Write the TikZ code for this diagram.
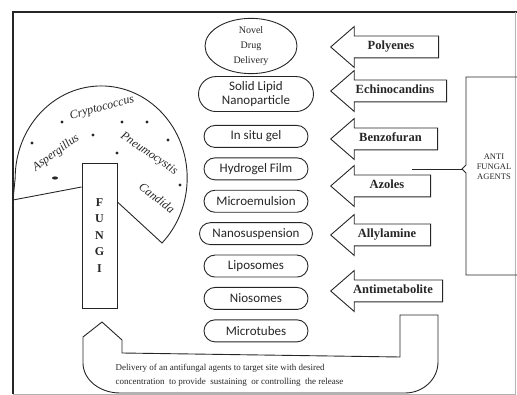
\documentclass[tikz,border=0pt]{standalone}
\usepackage{fontspec}
\setmainfont{Liberation Serif}
\newfontfamily\pillfont{Carlito}
\definecolor{fgInk}{HTML}{262626}
\usetikzlibrary{arrows.meta, positioning, shapes.geometric, shapes.misc, shapes.arrows}

\begin{document}
\begin{tikzpicture}[x=1pt, y=-1pt,
  node distance=9.5pt,
  every node/.style={align=center, text=fgInk},
  line/.style={draw=fgInk, line width=0.9pt},
  pill/.style={rounded rectangle, line, fill=white, inner sep=1pt,
               minimum width=106pt, minimum height=22pt,
               font=\pillfont\fontsize{13}{14}\selectfont},
  agent/.style={single arrow, shape border rotate=180, line, anchor=tip,
                single arrow head extend=9.5pt, single arrow tip angle=82,
                minimum height=108pt, inner ysep=5pt, text height=8.5pt, text depth=2.5pt,
                font=\fontsize{12.5}{14}\selectfont\bfseries},
  bug/.style={inner sep=0pt, font=\fontsize{12}{14}\selectfont\itshape}
]
  \useasboundingbox (0,0) rectangle (517,395);

  % frame
  \draw[fgInk, line width=1.4pt] (13,394) -- (13,12) -- (517,12);
  \draw[black!30, line width=0.7pt] (515,12) -- (515,394) -- (13,394);

  % delivery systems
  \node[ellipse, line, minimum width=92pt, minimum height=52pt, inner sep=0pt,
        font=\fontsize{10}{15}\selectfont] (ndd) at (251,46) {Novel\\Drug\\Delivery};
  \node[pill, minimum width=117pt, minimum height=35pt, below=2pt of ndd, xshift=5pt] (sln) {Solid Lipid\\Nanoparticle};
  \node[pill, below=13pt of sln] (insitu) {In situ gel};
  \node[pill, below=of insitu] (hydro)  {Hydrogel Film};
  \node[pill, below=of hydro]  (emul)   {Microemulsion};
  \node[pill, below=of emul, minimum width=115pt] (susp) {Nanosuspension};
  \node[pill, below=of susp]   (lipo)   {Liposomes};
  \node[pill, below=of lipo]   (nio)    {Niosomes};
  \node[pill, below=of nio]    (tubes)  {Microtubes};

  % antifungal agents
  \node[agent] (poly)  at (330,47)  {Polyenes};
  \node[agent, minimum height=116pt] (echi) at (330,91) {Echinocandins};
  \node[agent, minimum height=107pt] (benz) at (330,139) {Benzofuran};
  \node[agent, minimum height=100pt] (azol) at (330,186) {Azoles};
  \node[agent, minimum height=100pt] (ally) at (330,235) {Allylamine};
  \node[agent, minimum height=112pt] (anti) at (330,291) {Antimetabolite};

  \node[font=\fontsize{8.5}{10}\selectfont] (agents) at (494,167) {ANTI\\FUNGAL\\AGENTS};
  \coordinate (brace) at (462,169);
  \coordinate (stub)  at (412,169);
  \draw[line] (517,77) -- (466,77) -- (466,165) -- (brace) -- (466,173) -- (466,275) -- (517,275);
  \draw[line] (brace) -- (stub);

  % fungi fan
  \node[line, minimum width=35pt, minimum height=145pt, inner sep=0pt,
        font=\fontsize{12}{16.5}\selectfont\bfseries] (fungi) at (99.5,235.5) {F\\U\\N\\G\\I};
  \draw[line] (13,200) -- (fungi.west |- 0,187);
  \draw[line] (fungi.east |- 0,202) -- (162,243)
    arc[start angle=45, end angle=-180, x radius=86, y radius=92] -- (13,200);
  \node[bug, rotate=15]  (crypto) at (102,108) {Cryptococcus};
  \node[bug, rotate=36]  (asper)  at (56,153)  {Aspergillus};
  \node[bug, rotate=-34] (pneumo) at (149,154) {Pneumocystis};
  \node[bug, rotate=-37] (cand)   at (157,198) {Candida};
  \foreach \p in {(62,122),(32,143),(93,135),(122,122),(147,122),(168,140),(117,153),(180,185)}
    \fill[fgInk] \p circle (1.7pt);
  \fill[fgInk] (55,178) ellipse [x radius=3, y radius=1.6];

  % target delivery
  \draw[line] (102,322) -- (122,340) -- (122,353) -- (400,357) -- (400,315) -- (438,315) -- (438,362)
    arc[start angle=0, end angle=90, x radius=33, y radius=31] -- (120,393)
    arc[start angle=90, end angle=180, x radius=37, y radius=30] -- (83,337) -- cycle;
  \node[anchor=north west, align=left, font=\fontsize{9}{14}\selectfont] (goal) at (112,361)
    {Delivery of an antifungal agents to target site with desired\\
     concentration\ \ to provide\ \ sustaining\ \ or controlling\ \ the release};
\end{tikzpicture}
\end{document}
